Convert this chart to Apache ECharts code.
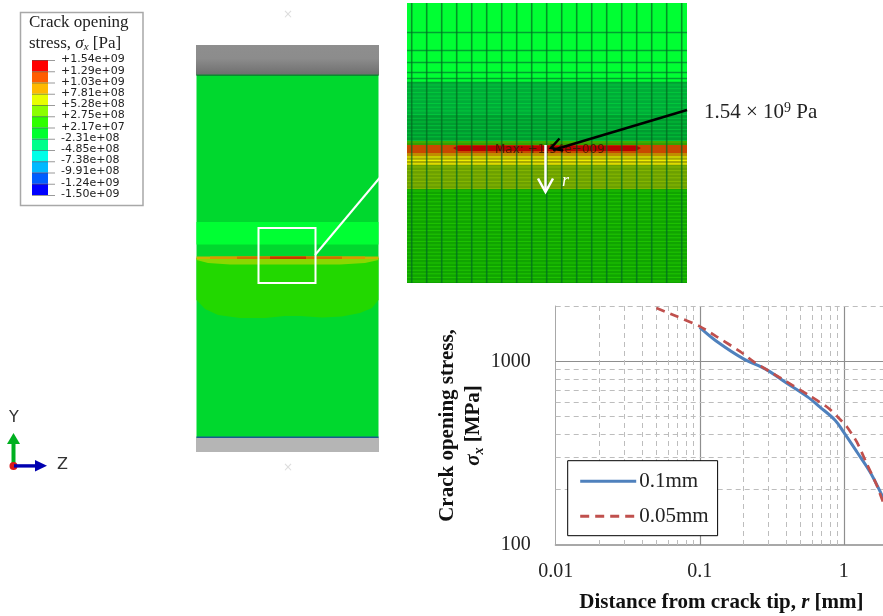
<!DOCTYPE html>
<html>
<head>
<meta charset="utf-8">
<style>html,body{margin:0;padding:0;background:#fff}#c{width:883px;height:616px}</style>
<script src="https://cdn.jsdelivr.net/npm/echarts@6/dist/echarts.min.js"></script>
</head>
<body>
<div id="c"></div>
<script>
const seriesNames = ['0.1mm', '0.05mm'];
const r01 = [0.1, 0.13, 0.2, 0.29, 0.4, 0.56, 0.68, 0.87, 1, 1.23, 1.52, 1.79, 2];
const s01 = [1530, 1290, 1034, 901, 762, 640, 565, 478, 410, 322, 250, 195, 160];
const r005 = [0.05, 0.069, 0.1, 0.13, 0.19, 0.235, 0.324, 0.447, 0.583, 0.78, 0.94, 1.05, 1.23, 1.44, 1.69, 1.87, 2];
const s005 = [1950, 1757, 1550, 1367, 1133, 1000, 857, 735, 647, 557, 484, 440, 364, 278, 212, 172, 155];
const xLabels = [0.01, 0.1, 1];
const yLabels = [100, 1000];
const xSolid = [0.1, 1];
const xDashed = [0.02,0.03,0.04,0.05,0.06,0.07,0.08,0.09,0.2,0.3,0.4,0.5,0.6,0.7,0.8,0.9];
const ySolid = [1000];
const yDashed = [200,300,400,500,600,700,800,900,2000];
const contourLabels = ['+1.54e+09','+1.29e+09','+1.03e+09','+7.81e+08','+5.28e+08','+2.75e+08','+2.17e+07','-2.31e+08','-4.85e+08','-7.38e+08','-9.91e+08','-1.24e+09','-1.50e+09'];
const contourColors = ['#ff0000','#ff5d00','#ffb900','#e8ff00','#8bff00','#2eff00','#00ff2e','#00ff8b','#00ffe8','#00b9ff','#005dff','#0000ff'];

const SERIF = '"Liberation Serif", serif';
const SANS = '"DejaVu Sans", sans-serif';
const els = [];
const rect = (x, y, w, h, fill, extra) => els.push(Object.assign({type:'rect', silent:true, shape:{x, y, width:w, height:h}, style:{fill}}, extra||{}));
const line = (x1, y1, x2, y2, stroke, lineWidth, opacity) => els.push({type:'line', silent:true, shape:{x1,y1,x2,y2}, style:{stroke, lineWidth, opacity: opacity==null?1:opacity}});
const poly = (points, fill) => els.push({type:'polygon', silent:true, shape:{points}, style:{fill}});
const pline = (points, stroke, lineWidth) => els.push({type:'polyline', silent:true, shape:{points}, style:{stroke, lineWidth, fill:null, lineJoin:'miter'}});
const text = (x, y, t, font, size, fill, extra) => els.push({type:'text', silent:true, x, y, style:Object.assign({text:t, fontFamily:font, fontSize:size, fill, textVerticalAlign:'middle', verticalAlign:'middle'}, extra||{})});

// Contour legend
rect(20.5, 12.5, 122.5, 193, '#fff', {style:{fill:'#fff', stroke:'#a8a8a8', lineWidth:1.5}});
text(29, 23, 'Crack opening', SERIF, 17, '#222');
text(29, 44, '{a|stress, }{i|σ}{s|x}{a| [Pa]}', SERIF, 17, '#222', {rich:{a:{fontFamily:SERIF,fontSize:17,fill:'#222'}, i:{fontFamily:SERIF,fontStyle:'italic',fontSize:17,fill:'#222'}, s:{fontFamily:SERIF,fontStyle:'italic',fontSize:11,fill:'#222',verticalAlign:'bottom'}}});
contourColors.forEach((c, i) => rect(32, 60 + i*11.25, 16, 11.25, c));
contourLabels.forEach((t, i) => {
  line(32, 60.5 + i*11.25, 55, 60.5 + i*11.25, '#555', 0.8, 0.75);
  text(61, 59.5 + i*11.2, t, SANS, 11, '#222');
});

// Specimen
text(288, 15, '×', SANS, 12, '#ddd', {align:'center', textAlign:'center'});
text(288, 468, '×', SANS, 12, '#ddd', {align:'center', textAlign:'center'});
rect(196, 45, 183, 30, '#8a8a8a', {style:{fill:{type:'linear',x:0,y:0,x2:0,y2:1,colorStops:[{offset:0,color:'#8e8e8e'},{offset:.45,color:'#8c8c8c'},{offset:1,color:'#6e6e6e'}]}}});
rect(196, 438, 183, 14, '#b5b5b5');
rect(196.5, 75, 182, 363, '#00d82e');
rect(196.5, 74.5, 182, 1.5, '#0a8a30');
rect(196.5, 436.5, 182, 1.5, '#1a5a90');
rect(196.5, 222, 182, 22.5, '#00ff33');
poly([[196.5,258],[378.5,258],[378.5,300],[372,308],[360,313],[342,316.5],[322,317.5],[300,316],[285,316],[265,318],[240,318],[218,315],[205,309],[196.5,300]], '#22d800');
poly([[196.5,258],[378.5,258],[378.5,260],[365,263],[340,264.5],[230,264.5],[208,263],[196.5,260]], '#8ad800');
rect(196.5, 256.5, 182, 2.5, '#c8b400');
rect(210, 256.5, 155, 2.5, '#d89800');
rect(237, 256.5, 105, 2.5, '#d07000');
rect(270, 256.5, 36, 2.5, '#c83800');
line(315, 255, 379.5, 178, '#fff', 2);
els.push({type:'rect', silent:true, shape:{x:258.5,y:228,width:57,height:55}, style:{fill:null, stroke:'#fff', lineWidth:2}});

// Axes triad
rect(11.5, 443, 4, 22, '#00b020');
poly([[13.5,433],[20,444],[7,444]], '#00b020');
els.push({type:'circle', silent:true, shape:{cx:13.5, cy:466, r:4}, style:{fill:'#d81818'}});
rect(14, 464.2, 23, 3.4, '#0000b0');
poly([[47,465.8],[35,460],[35,471.5]], '#0000b0');
text(9, 418, 'Y', SANS, 16, '#333');
text(57, 465, 'Z', SANS, 16, '#333');

// Zoomed mesh
const MX = 407, MY = 3, MW = 280, MH = 280;
rect(MX, MY, MW, 80, '#00ff33');
rect(MX, 83, MW, 32, '#00ac38');
rect(MX, 115, MW, 26, '#009c30');
rect(MX, 141, MW, 4, '#34a000');
rect(MX, 145, MW, 8, '#c84800');
rect(MX, 153, MW, 3, '#c08c00');
rect(MX, 156, MW, 9, '#a8a800');
rect(MX, 165, MW, 24, '#6ca000');
rect(MX, 189, MW, 94, '#10a400');
[32,50,62,72,78,82].forEach(y => line(MX, y+.5, MX+MW, y+.5, '#00a030', 1.4));
for (let y = 85; y < 141; y += 3.7) line(MX, y, MX+MW, y, '#00e040', 1, .55);
for (let y = 142; y < 145; y += 3) line(MX, y, MX+MW, y, '#60c000', 1, .7);
for (let y = 157; y < 165; y += 3.4) line(MX, y, MX+MW, y, '#f0f000', 1.2, .95);
for (let y = 167; y < 189; y += 3.6) line(MX, y, MX+MW, y, '#98c800', 1, .6);
for (let y = 191; y < 283; y += 3.6) line(MX, y, MX+MW, y, '#2ce000', 1, .55);
poly([[453,148],[458,145.5],[636,145.5],[641,148],[636,151],[458,151]], '#b80000');
for (let k = 0; k < 19; k++) line(411.7 + k*15, MY, 411.7 + k*15, MY+MH, '#006a20', 1.6, .7);
text(495, 150, 'Max: +1.54e+009', SANS, 12, '#3a1800', {opacity:.85});
line(545.5, 145, 545.5, 192, '#fff', 2.5);
pline([[538,178.5],[545.5,192],[553,178.5]], '#fff', 2.5);
text(562, 181, 'r', SERIF, 18, '#fff', {fontStyle:'italic'});
line(687, 110, 553, 150, '#000', 2.5);
pline([[559.5,138.5],[551,148],[563,150.5]], '#000', 2.5);
text(704, 112, '{a|1.54 × 10}{s|9}{a| Pa}', SERIF, 21, '#222', {rich:{a:{fontFamily:SERIF,fontSize:21,fill:'#222'}, s:{fontFamily:SERIF,fontSize:14,fill:'#222',verticalAlign:'top'}}});

const dash = {color:'#bdbdbd', width:1, type:[5,4]};
const solid = {color:'#8e8e8e', width:1.2, type:'solid'};
const marks = [
  ...xSolid.map(v => ({xAxis:v, lineStyle:solid})),
  ...ySolid.map(v => ({yAxis:v, lineStyle:solid})),
  ...xDashed.map(v => ({xAxis:v, lineStyle:dash})),
  ...yDashed.map(v => ({yAxis:v, lineStyle:dash}))
];

const chart = echarts.init(document.getElementById('c'), null, {renderer:'canvas'});
chart.setOption({
  animation:false,
  backgroundColor:'#fff',
  textStyle:{fontFamily:SERIF},
  grid:{left:555.7, top:306, width:331.5, height:239, containLabel:false, outerBoundsMode:'none'},
  xAxis:{
    type:'log', logBase:10, min:0.01, max:2,
    name:'{b|Distance from crack tip, }{i|r}{b| [mm]}',
    nameLocation:'middle', nameGap:47,
    nameTextStyle:{rich:{b:{fontFamily:SERIF,fontWeight:'bold',fontSize:21,color:'#111'}, i:{fontFamily:SERIF,fontWeight:'bold',fontStyle:'italic',fontSize:21,color:'#111'}}},
    axisLine:{show:true, onZero:false, lineStyle:{color:'#a8a8a8', width:2}},
    axisTick:{show:false},
    splitLine:{show:false}, minorSplitLine:{show:false},
    axisLabel:{customValues:xLabels, fontFamily:SERIF, fontSize:20, color:'#222', margin:17, formatter:v => String(v)}
  },
  yAxis:{
    type:'log', logBase:10, min:100, max:2000,
    name:'{b|Crack opening stress,}\n{i|σ}{s|x}{b| [MPa]}',
    nameLocation:'middle', nameGap:69, nameRotate:90,
    nameTextStyle:{align:'center', lineHeight:26, rich:{b:{fontFamily:SERIF,fontWeight:'bold',fontSize:21,color:'#111',lineHeight:26}, i:{fontFamily:SERIF,fontWeight:'bold',fontStyle:'italic',fontSize:21,color:'#111',lineHeight:26}, s:{fontFamily:SERIF,fontWeight:'bold',fontStyle:'italic',fontSize:14,color:'#111',verticalAlign:'bottom',lineHeight:26}}},
    axisLine:{show:true, onZero:false, lineStyle:{color:'#a8a8a8', width:1}},
    axisTick:{show:false},
    splitLine:{show:false}, minorSplitLine:{show:false},
    axisLabel:{customValues:yLabels, fontFamily:SERIF, fontSize:20, color:'#222', margin:25, formatter:v => String(v)}
  },
  legend:{
    orient:'vertical', left:567.7, top:460.7,
    padding:[10,9,9,11], itemGap:14, itemWidth:56, itemHeight:22,
    backgroundColor:'#fff', borderColor:'#000', borderWidth:1, borderRadius:0,
    itemStyle:{opacity:0}, lineStyle:{width:3},
    textStyle:{fontFamily:SERIF, fontSize:21, color:'#222', padding:[0,0,0,-2]},
    data:seriesNames
  },
  series:[
    {name:seriesNames[1], type:'line', data:r005.map((x,i)=>[x,s005[i]]), smooth:.25, symbol:'none', z:3,
     lineStyle:{color:'#c0504d', width:2.7, type:[9,6]}, itemStyle:{color:'#c0504d'},
     markLine:{silent:true, symbol:'none', label:{show:false}, animation:false, z:1, data:marks}},
    {name:seriesNames[0], type:'line', data:r01.map((x,i)=>[x,s01[i]]), smooth:.35, symbol:'none', z:2,
     lineStyle:{color:'#4f81bd', width:3}, itemStyle:{color:'#4f81bd'}}
  ],
  graphic:{elements:els}
});
</script>
</body>
</html>
